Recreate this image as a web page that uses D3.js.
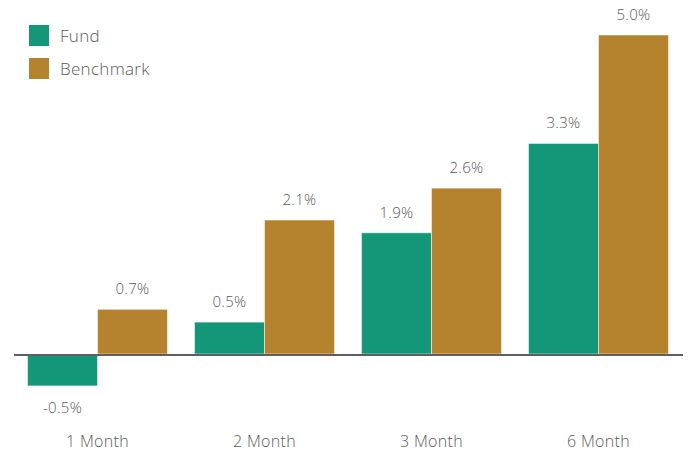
<!DOCTYPE html>
<html lang="en">
<head>
    <meta charset="UTF-8">
    <title>Fund vs Benchmark</title>
    <script src="https://d3js.org/d3.v7.min.js"></script>
    <style>
        body { margin: 0; background: #fff; }
        text { font-family: "Open Sans", "DejaVu Sans", sans-serif; font-weight: 300; fill: #5a5a5a; letter-spacing: 0.3px; }
    </style>
</head>
<body>
    <div id="chart"></div>

    <script>
        const categories = ["1 Month", "2 Month", "3 Month", "6 Month"];
        const seriesNames = ["Fund", "Benchmark"];
        const fund = [-0.5, 0.5, 1.9, 3.3];
        const benchmark = [0.7, 2.1, 2.6, 5.0];
        const colors = ["#149779", "#b5832d"];

        const width = 688;
        const height = 452;

        const svg = d3.select("#chart").append("svg")
            .attr("width", width)
            .attr("height", height);

        const x = d3.scaleBand()
            .domain(categories)
            .range([14, 682])
            .paddingInner(0.162)
            .paddingOuter(0.081);

        const x1 = d3.scaleBand()
            .domain(seriesNames)
            .range([0, x.bandwidth()]);

        const y = d3.scaleLinear()
            .domain([0, 5])
            .range([354, 35]);

        const color = d3.scaleOrdinal().domain(seriesNames).range(colors);

        const rows = categories.map((c, i) => ({
            cat: c,
            values: [
                { key: "Fund", value: fund[i] },
                { key: "Benchmark", value: benchmark[i] }
            ]
        }));

        const groups = svg.selectAll(".group")
            .data(rows)
            .enter()
            .append("g")
            .attr("class", "group")
            .attr("transform", d => "translate(" + x(d.cat) + ",0)");

        groups.selectAll("rect")
            .data(d => d.values)
            .enter()
            .append("rect")
            .attr("x", d => x1(d.key))
            .attr("y", d => y(Math.max(0, d.value)))
            .attr("width", x1.bandwidth())
            .attr("height", d => Math.abs(y(d.value) - y(0)))
            .attr("fill", d => color(d.key))
            .attr("stroke", "rgba(255,255,255,0.5)")
            .attr("stroke-width", 1);

        // value labels
        groups.selectAll(".val")
            .data(d => d.values)
            .enter()
            .append("text")
            .attr("class", "val")
            .attr("x", d => x1(d.key) + x1.bandwidth() / 2)
            .attr("y", d => d.value >= 0 ? y(d.value) - 15 : y(d.value) + 27)
            .attr("text-anchor", "middle")
            .style("font-size", "15px")
            .text(d => d.value.toFixed(1) + "%");

        // zero line
        svg.append("line")
            .attr("x1", 14)
            .attr("x2", 683)
            .attr("y1", y(0) + 1)
            .attr("y2", y(0) + 1)
            .attr("stroke", "#5f5f5f")
            .attr("stroke-width", 2);

        // category labels
        svg.append("g").selectAll("text")
            .data(categories)
            .enter()
            .append("text")
            .attr("x", d => x(d) + x.bandwidth() / 2)
            .attr("y", 447)
            .attr("text-anchor", "middle")
            .style("font-size", "16px")
            .text(d => d);

        // legend
        const legend = svg.append("g").selectAll("g")
            .data(seriesNames)
            .enter()
            .append("g")
            .attr("transform", (d, i) => "translate(29," + (25 + i * 33) + ")");

        legend.append("rect")
            .attr("width", 20)
            .attr("height", 21)
            .attr("fill", d => color(d));

        legend.append("text")
            .attr("x", 31)
            .attr("y", 17)
            .style("font-size", "17px")
            .text(d => d);
    </script>
</body>
</html>
